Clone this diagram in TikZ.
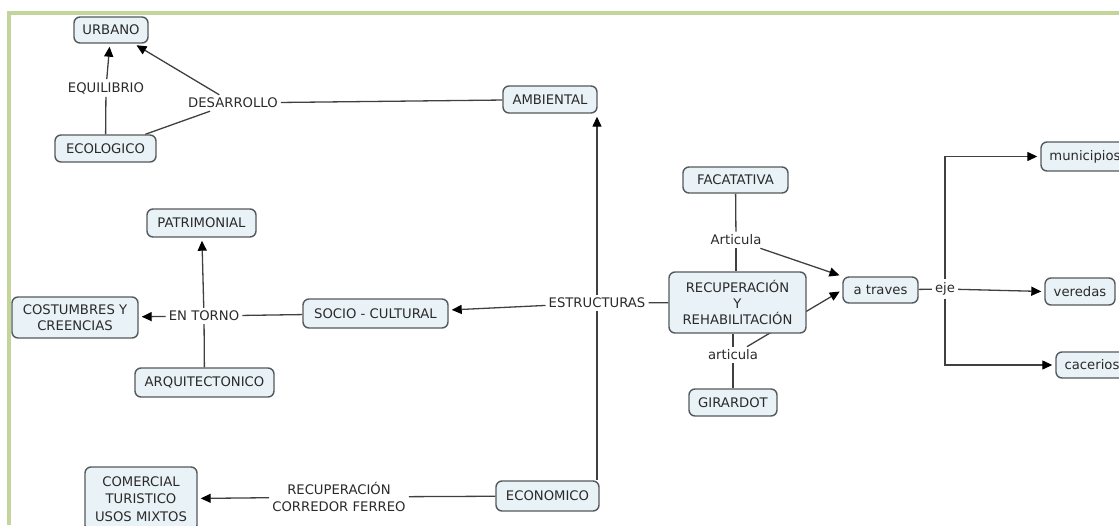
\documentclass[tikz,border=0pt]{standalone}
\usepackage{fontspec}
\setmainfont{DejaVu Sans}
\usetikzlibrary{arrows.meta}
\pgfdeclarelayer{background}
\pgfsetlayers{background,main}
\definecolor{frame}{RGB}{195,213,155}
\definecolor{boxfill}{RGB}{233,242,246}
\definecolor{boxline}{RGB}{85,89,91}
\definecolor{ink}{RGB}{42,42,42}
\definecolor{link}{RGB}{64,64,64}

\begin{document}
\begin{tikzpicture}[x=1pt,y=-1pt,
  concept/.style 2 args={draw=boxline, fill=boxfill, line width=1.4pt,
    rounded corners=6pt, text=ink, font=\fontsize{13.2}{15.7}\selectfont,
    align=center, inner sep=0pt, minimum width=#1, minimum height=#2},
  phrase/.style={text=ink, font=\fontsize{13.2}{17}\selectfont,
    align=center, inner sep=3pt},
  conn/.style={draw=link, line width=1.3pt},
  arr/.style={conn, -{Triangle[length=10pt,width=9pt,color=black]}, shorten >=3pt}]

\useasboundingbox (0,0) rectangle (1119,525);
\clip (0,0) rectangle (1119,525);

% page frame
\fill[frame] (7,11) rectangle (1119,15);
\fill[frame] (7,11) rectangle (11,525);

% concepts
\node[concept={74pt}{26pt}]   (urbano)    at (111,30)    {URBANO};
\node[concept={101pt}{27pt}]  (ecologico) at (105.5,148.5) {ECOLOGICO};
\node[concept={94pt}{27pt}]   (ambiental) at (550,99.5)  {AMBIENTAL};
\node[concept={109pt}{28pt}]  (patrim)    at (201.5,223) {PATRIMONIAL};
\node[concept={126pt}{41pt}]  (costumb)   at (75,317.5)  {COSTUMBRES Y\\CREENCIAS};
\node[concept={145pt}{29pt}]  (socio)     at (375.5,313.5) {SOCIO - CULTURAL};
\node[concept={139pt}{29pt}]  (arquit)    at (204.5,382.5) {ARQUITECTONICO};
\node[concept={112pt}{64pt}, font=\fontsize{13.2}{17.5}\selectfont]
                              (comercial) at (141,499)   {COMERCIAL\\TURISTICO\\USOS MIXTOS};
\node[concept={103pt}{30pt}]  (economico) at (547.5,496) {ECONOMICO};
\node[concept={105pt}{26pt}]  (facat)     at (735.5,180) {FACATATIVA};
\node[concept={137pt}{61pt}]  (recup)     at (737.5,302.5) {RECUPERACIÓN\\Y\\REHABILITACIÓN};
\node[concept={88pt}{27pt}]   (girardot)  at (733,402.5) {GIRARDOT};
\node[concept={75pt}{26pt}]   (atraves)   at (880.5,290) {a traves};
\node[concept={88pt}{29pt}]   (municip)   at (1085,156.5) {municipios};
\node[concept={70pt}{27pt}]   (veredas)   at (1080,291.5) {veredas};
\node[concept={72pt}{26pt}]   (cacerios)  at (1092,365)  {cacerios};

% linking phrases
\node[phrase] (equil)    at (106,88)   {EQUILIBRIO};
\node[phrase] (desarr)   at (233,103)  {DESARROLLO};
\node[phrase] (entorno)  at (204,316)  {EN TORNO};
\node[phrase] (estruct)  at (597,303)  {ESTRUCTURAS};
\node[phrase] (corredor) at (339,497)  {RECUPERACIÓN\\CORREDOR FERREO};
\node[phrase] (articA)   at (736,240)  {Articula};
\node[phrase] (articB)   at (733,355)  {articula};
\node[phrase] (eje)      at (945,289)  {eje};

% connectors
\begin{pgfonlayer}{background}
  \draw[conn] (ecologico) -- (equil);
  \draw[arr]  (equil) -- (urbano);
  \draw[conn] (ecologico) -- (desarr);
  \draw[arr]  (desarr) -- (urbano);
  \draw[conn] (ambiental) -- (desarr);

  \draw[conn] (socio) -- (entorno);
  \draw[arr]  (entorno) -- (costumb);
  \draw[arr]  (entorno) -- (patrim);
  \draw[conn] (arquit) -- (entorno);

  \draw[conn] (recup) -- (estruct);
  \draw[arr]  (estruct) -- (socio);
  \draw[arr]  (estruct.north) -- (estruct.north |- ambiental.south);
  \draw[conn] (estruct.south) -- (estruct.south |- economico.north);

  \draw[conn] (economico) -- (corredor);
  \draw[arr]  (corredor) -- (comercial);

  \draw[conn] (facat) -- (articA);
  \draw[conn] (articA) -- (articA |- recup.north);
  \draw[arr]  (articA) -- (atraves.north west);
  \draw[conn] (girardot) -- (articB);
  \draw[conn] (articB.north) -- (articB.north |- recup.south);
  \draw[arr]  (articB) -- (atraves.west);

  \draw[conn] (atraves) -- (eje);
  \draw[arr]  (eje.north) |- (municip.west);
  \draw[arr]  (eje) -- (veredas.west);
  \draw[arr]  (eje.south) |- (cacerios.west);
\end{pgfonlayer}
\end{tikzpicture}
\end{document}
